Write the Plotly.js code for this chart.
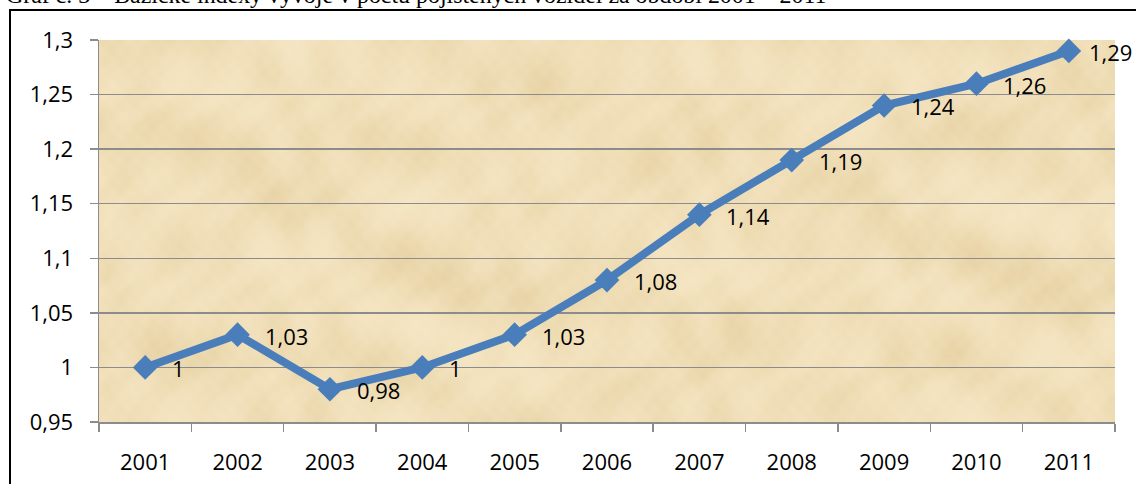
<!DOCTYPE html>
<html>
<head>
<meta charset="utf-8">
<script src="https://cdn.plot.ly/plotly-3.0.1.min.js"></script>
<style>
html,body{margin:0;padding:0;background:#fff;overflow:hidden;}
#wrap{position:relative;width:1136px;height:484px;overflow:hidden;}
#chart{position:absolute;left:0;top:0;width:1136px;height:484px;}
#frame{position:absolute;left:9px;top:9px;width:1140px;height:490px;border-left:2px solid #000;border-top:2px solid #000;pointer-events:none;}
#title{position:absolute;left:6px;white-space:nowrap;font-family:'Liberation Serif','Times New Roman',serif;line-height:1;color:#000;}
</style>
</head>
<body>
<div id="wrap">
<div id="chart"></div>
<div id="frame"></div>
<div id="title"></div>
</div>
<script>
var years = ['2001','2002','2003','2004','2005','2006','2007','2008','2009','2010','2011'];
var indexValues = [1, 1.03, 0.98, 1, 1.03, 1.08, 1.14, 1.19, 1.24, 1.26, 1.29];
var yTickVals = [0.95, 1, 1.05, 1.1, 1.15, 1.2, 1.25, 1.3];
var yTickText = ['0,95', '1', '1,05', '1,1', '1,15', '1,2', '1,25', '1,3'];
var titleText = 'Graf č. 3 – Bazické indexy vývoje v počtu pojištěných vozidel za období 2001 – 2011';

function fmt(v){ return String(v).replace('.', ','); }

// title: sized to span like the reference, baseline just below the top edge
(function(){
  var fam = "'Liberation Serif','Times New Roman',serif";
  var c = document.createElement('canvas').getContext('2d');
  c.font = '20px ' + fam;
  var w20 = c.measureText(titleText).width;
  var fs = Math.round(20 * 820 / w20 * 10) / 10;
  var el = document.getElementById('title');
  el.textContent = titleText;
  el.style.fontSize = fs + 'px';
  el.style.top = (4 - 0.8375 * fs) + 'px';
})();

// decorative parchment texture (deterministic, subtle mottling)
function makeTexture(w, h){
  var c = document.createElement('canvas');
  c.width = w; c.height = h;
  var ctx = c.getContext('2d');
  var img = ctx.createImageData(w, h);
  for (var y = 0; y < h; y++) {
    for (var x = 0; x < w; x++) {
      var n = 0.35*Math.sin(x*0.017 + 2.3*Math.sin(y*0.029 + x*0.004))
            + 0.30*Math.sin(y*0.041 + 2.9*Math.cos(x*0.011 - y*0.006))
            + 0.25*Math.sin(x*0.063 - y*0.052 + 1.7*Math.sin(x*0.031))
            + 0.22*Math.sin(x*0.11 + y*0.09 + 1.3*Math.cos(y*0.07))
            + 0.15*Math.sin(x*0.37 + 0.8*Math.sin(y*0.23))*Math.cos(y*0.29);
      var t = (n + 1.3) / 2.6; if (t < 0) t = 0; if (t > 1) t = 1;
      t = Math.pow(t, 1.4);
      var r = 245 - 14*t, g = 230 - 20*t, b = 196 - 32*t;
      var i = (y*w + x)*4;
      img.data[i] = r; img.data[i+1] = g; img.data[i+2] = b; img.data[i+3] = 255;
    }
  }
  ctx.putImageData(img, 0, 0);
  return c.toDataURL('image/png');
}

var labelFont = {family: 'Open Sans, Noto Sans, sans-serif', size: 22, color: '#000'};

var trace = {
  x: years,
  y: indexValues,
  type: 'scatter',
  mode: 'lines+markers',
  line: {color: '#4a7ebb', width: 8},
  marker: {symbol: 'diamond', size: 19, color: '#4a7ebb'},
  cliponaxis: false,
  hoverinfo: 'skip'
};

// data labels: x given as the category index of each year;
// the last one sits a little closer so it stays inside the page
var labelAnns = years.map(function(yr, i){
  return {
    x: i, y: indexValues[i], xref: 'x', yref: 'y',
    text: fmt(indexValues[i]),
    xanchor: 'left', yanchor: 'middle',
    xshift: (i === years.length - 1) ? 19 : 26, yshift: -1,
    showarrow: false, borderpad: 0,
    font: labelFont
  };
});

var layout = {
  width: 1136, height: 484,
  margin: {l: 99, r: 21, t: 40, b: 62},
  paper_bgcolor: 'rgba(0,0,0,0)',
  plot_bgcolor: '#eed9b0',
  showlegend: false,
  font: labelFont,
  xaxis: {
    type: 'category',
    range: [-0.5, 10.5],
    showgrid: false,
    showline: true, linecolor: '#8c8c8c', linewidth: 1.5,
    ticks: 'outside', ticklen: 8, tickcolor: '#8c8c8c', tickwidth: 1.5,
    tickson: 'boundaries',
    ticklabelstandoff: 20,
    zeroline: false,
    fixedrange: true
  },
  yaxis: {
    range: [0.95, 1.3],
    tickvals: yTickVals,
    ticktext: yTickText,
    showgrid: true, gridcolor: '#8c8c8c', gridwidth: 1.5,
    showline: true, linecolor: '#8c8c8c', linewidth: 1.5,
    ticks: 'outside', ticklen: 8, tickcolor: '#8c8c8c', tickwidth: 1.5,
    ticklabelstandoff: 12,
    zeroline: false,
    fixedrange: true
  },
  images: [{
    source: makeTexture(1016, 382),
    xref: 'paper', yref: 'paper', x: 0, y: 1, sizex: 1, sizey: 1,
    xanchor: 'left', yanchor: 'top', sizing: 'stretch', layer: 'below'
  }],
  annotations: labelAnns
};

Plotly.newPlot('chart', [trace], layout, {displayModeBar: false, staticPlot: true});
</script>
</body>
</html>
